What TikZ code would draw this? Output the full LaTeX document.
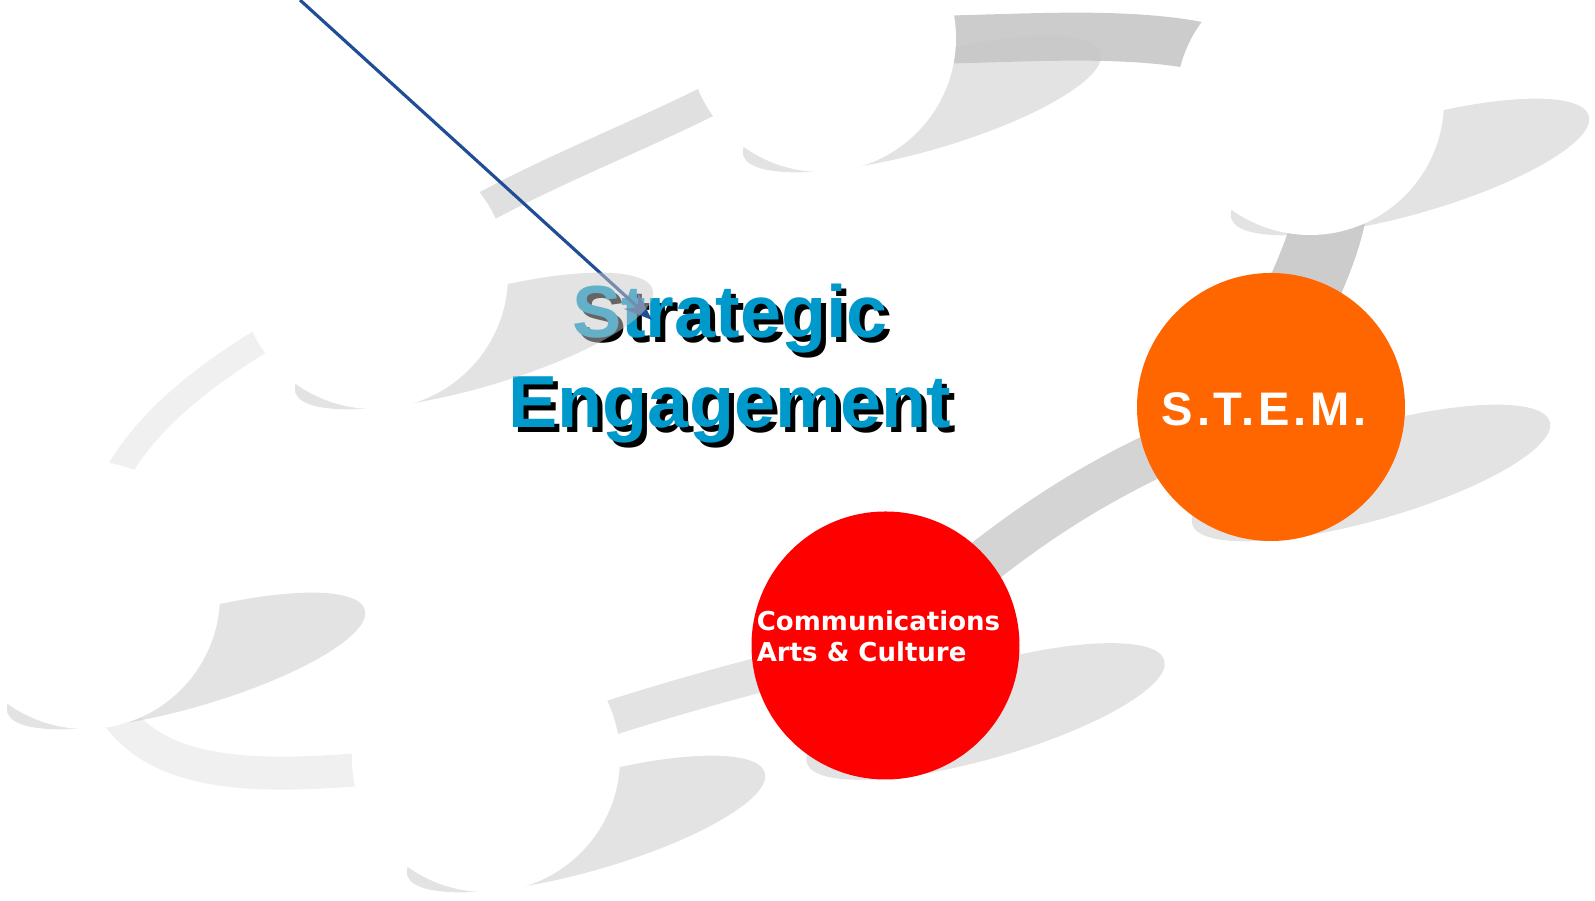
\documentclass[tikz,border=0pt]{standalone}
\usepackage{fontspec}
\setmainfont{Liberation Sans}
\newfontfamily\commfont{DejaVu Sans}
\newfontfamily\stemfont{Liberation Sans}[LetterSpace=8]
\usetikzlibrary{arrows.meta}
\pgfdeclarelayer{background layer}
\pgfdeclarelayer{foreground layer}
\pgfsetlayers{background layer,main,foreground layer}

\definecolor{titleblue}{HTML}{0099CC}
\definecolor{stemorange}{HTML}{FF6600}
\definecolor{commred}{HTML}{FF0000}
\definecolor{pointerblue}{HTML}{1F4E96}
\definecolor{shadowgray}{HTML}{C8C8C8}

\tikzset{
  waypoint/.style={circle,minimum size=2.68cm,inner sep=0pt,fill=white},
  band/.style={line width=#1,line cap=butt},
  floorshadow/.style={fill=shadowgray,fill opacity=0.51},
  titletext/.style={font=\bfseries\fontsize{21}{25.6}\selectfont,align=center,inner sep=0pt},
}

\begin{document}
\begin{tikzpicture}
\useasboundingbox (0,0) rectangle (15.95,9.01);

% stops of the path
\begin{pgfonlayer}{foreground layer}
\node[waypoint] (top) at (8.22,8.63) {};
\node[waypoint] (topright) at (13.10,8.00) {};
\node[waypoint] (midleft) at (3.74,6.26) {};
\node[waypoint] (botleft) at (0.86,3.06) {};
\node[waypoint] (botmid) at (4.86,1.43) {};
\node[waypoint,fill=commred,label={[text=white,font=\commfont\bfseries\fontsize{7.4}{8.7}\selectfont,align=left,xshift=-0.07cm,yshift=0.09cm]center:Communications\\Arts \& Culture}] (comm) at (8.855,2.555) {};
\node[waypoint,fill=stemorange,label={[text=white,font=\stemfont\bfseries\fontsize{13.4}{15}\selectfont,xshift=-0.07cm,yshift=-0.02cm]center:S.T.E.M.}] (stem) at (12.71,4.94) {};
\end{pgfonlayer}

% path between the stops
\begin{pgfonlayer}{background layer}
\draw[band=0.48cm,black!20] (top.center) .. controls (10.0,8.5) and (12.2,9.0) .. (topright.center);
\draw[band=0.31cm,black!12] (midleft.center) to[out=35,in=212] (top.center);
\draw[band=0.25cm,black!6] (botleft.center) to[out=90,in=210] (midleft.center);
\draw[band=0.33cm,black!6] (botleft.center) to[out=-90,in=185,looseness=1.3] (botmid.center);
\draw[band=0.35cm,black!11] (botmid.center) to[out=18,in=192] (comm.center);
\draw[band=0.45cm,black!17] (comm.center) to[out=42,in=200] (stem.center);
\draw[band=0.72cm,black!20] (stem.center) .. controls (12.7,6.0) and (13.8,6.8) .. (topright.center);
\end{pgfonlayer}

\node[titletext,text=black] (titleshade) at (7.35,5.32) {Strategic\\Engagement};
\node[titletext,text=titleblue] (title) at (7.30,5.37) {Strategic\\Engagement};

\coordinate (pointer) at (3.00,9.01);
\coordinate (pointertip) at (6.52,5.81);
\draw[pointerblue,line width=0.9pt,-{Stealth[length=8pt,width=6pt]}] (pointer) -- (pointertip);

% floor shadows
\foreach \n in {top,topright,midleft,botleft,botmid,comm,stem}
  \fill[floorshadow] (\n.center) ++(1.0,-0.66) circle[x radius=1.86,y radius=0.47,rotate=16];
\end{tikzpicture}
\end{document}
